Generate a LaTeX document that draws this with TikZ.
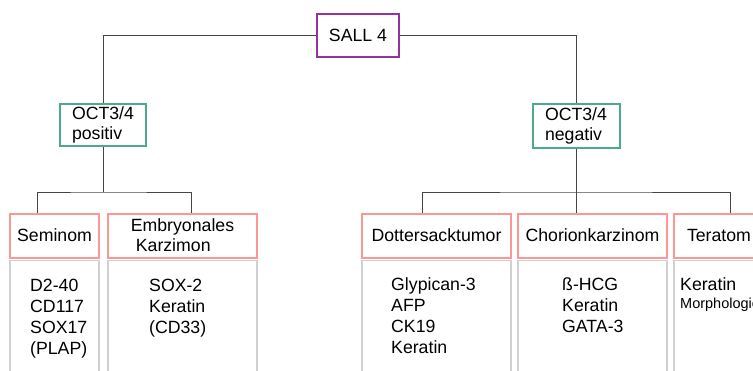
\documentclass[tikz,border=0pt]{standalone}
\usepackage{fontspec}
\setmainfont{Liberation Sans}
\usetikzlibrary{positioning}
\definecolor{sallcol}{RGB}{150,50,160}
\definecolor{octcol}{RGB}{75,170,140}
\definecolor{headcol}{RGB}{255,150,150}
\definecolor{boxcol}{RGB}{208,208,208}
\definecolor{linecol}{RGB}{70,70,70}

\begin{document}
\begin{tikzpicture}[x=1pt,y=-1pt,font=\fontsize{17.7}{20}\selectfont,
    link/.style={draw=linecol,line width=1pt},
    marker/.style={draw=#1,line width=2pt,inner sep=0pt,align=left},
    head/.style={draw=headcol,line width=2pt,minimum height=44pt,inner sep=0pt,align=left},
    greybox/.style={draw=boxcol,line width=1.6pt,minimum height=130pt,inner sep=0pt},
    list/.style={anchor=north west,inner sep=0pt,align=left,font=\fontsize{17.7}{21}\selectfont}]
  \useasboundingbox (0,0) rectangle (753,370);
  % top levels
  \node [marker=sallcol,minimum width=82pt,minimum height=43pt] (sall) at (358,35.5) {SALL 4};
  \node [marker=octcol,minimum width=86pt,minimum height=42pt] (pos) at (103,125) {OCT3/4\\positiv};
  \node [marker=octcol,minimum width=87pt,minimum height=44pt] (neg) at (576,125.5) {OCT3/4\\negativ};
  % tumours
  \node [head,minimum width=89pt] (sem) at (54.5,235.5) {Seminom};
  \node [head,minimum width=149pt] (emb) at (182.5,235.5) {Embryonales\\\hspace*{5pt}Karzimon};
  \node [head,minimum width=149pt] (dot) at (436.5,235.5) {Dottersacktumor};
  \node [head,minimum width=149pt] (cho) at (592.5,235.5) {Chorionkarzinom};
  \node [head,minimum width=90pt] (ter) at (719,235.5) {Teratom};
  \node [greybox,minimum width=89pt,below=1pt of sem] (semg) {};
  \node [greybox,minimum width=149pt,below=1pt of emb] (embg) {};
  \node [greybox,minimum width=149pt,below=1pt of dot] (dotg) {};
  \node [greybox,minimum width=149pt,below=1pt of cho] (chog) {};
  \node [greybox,minimum width=90pt,below=1pt of ter] (terg) {};
  % markers
  \node [list] (semlist) at (30,279) {D2-40\\CD117\\SOX17\\(PLAP)};
  \node [list] (emblist) at (149,279) {SOX-2\\Keratin\\(CD33)};
  \node [list] (dotlist) at (391,277) {Glypican-3\\AFP\\CK19\\Keratin};
  \node [list] (cholist) at (562,277) {ß-HCG\\Keratin\\GATA-3};
  \node [list] (terlist) at (680,277) {Keratin};
  \node [list,font=\fontsize{14.5}{16}\selectfont] (termorph) at (680,298) {Morphologie};
  % connectors
  \coordinate (lbar) at (pos |- 0,192);
  \coordinate (rbar) at (neg |- 0,192);
  \draw [link] (sall) -| (pos);
  \draw [link] (sall) -| (neg);
  \draw [link] (pos) -- (lbar);
  \draw [link] (sem.north -| 37,0) |- (lbar) -| (emb.north -| 191,0);
  \draw [link] (neg) -- (cho.north -| neg);
  \draw [link] (dot.north -| 422,0) |- (rbar) -| (ter.north -| 730,0);
\end{tikzpicture}
\end{document}
